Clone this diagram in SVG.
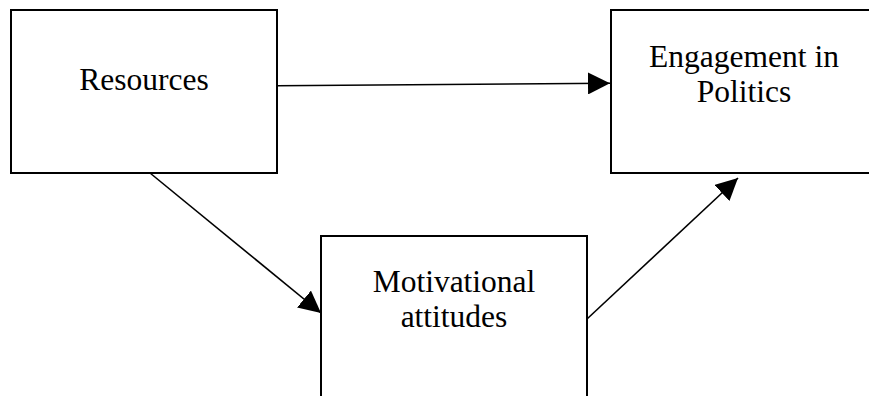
<svg xmlns="http://www.w3.org/2000/svg" width="869" height="396" viewBox="0 0 869 396">
<style>
.box{fill:#fff;stroke:#000;stroke-width:2}
.lbl{font-family:"Liberation Serif","Times New Roman",serif;font-size:31.5px;fill:#000;text-anchor:middle}
.edge{stroke:#000;stroke-width:1.6;fill:none;marker-end:url(#arr)}
</style>
<defs>
<marker id="arr" markerUnits="userSpaceOnUse" markerWidth="22" markerHeight="22" viewBox="0 0 20 20" refX="20" refY="10" orient="auto">
<path d="M0,0 L20,10 L0,20 Z" fill="#000"/>
</marker>
</defs>
<rect width="869" height="396" fill="#fff"/>
<g id="resources">
<rect class="box" x="11" y="10" width="266" height="163"/>
<text class="lbl" x="144" y="90">Resources</text>
</g>
<g id="engagement">
<rect class="box" x="611" y="10" width="270" height="163"/>
<text class="lbl" x="744" y="67">Engagement in</text>
<text class="lbl" x="744" y="102">Politics</text>
</g>
<g id="motivational">
<rect class="box" x="321" y="236" width="266" height="180"/>
<text class="lbl" x="454" y="292">Motivational</text>
<text class="lbl" x="454" y="327">attitudes</text>
</g>
<g id="connectors">
<path class="edge" d="M277,85.7 L610,83.3"/>
<path class="edge" d="M150,173 L321,313"/>
<path class="edge" d="M587,319 L738,178"/>
</g>
</svg>
